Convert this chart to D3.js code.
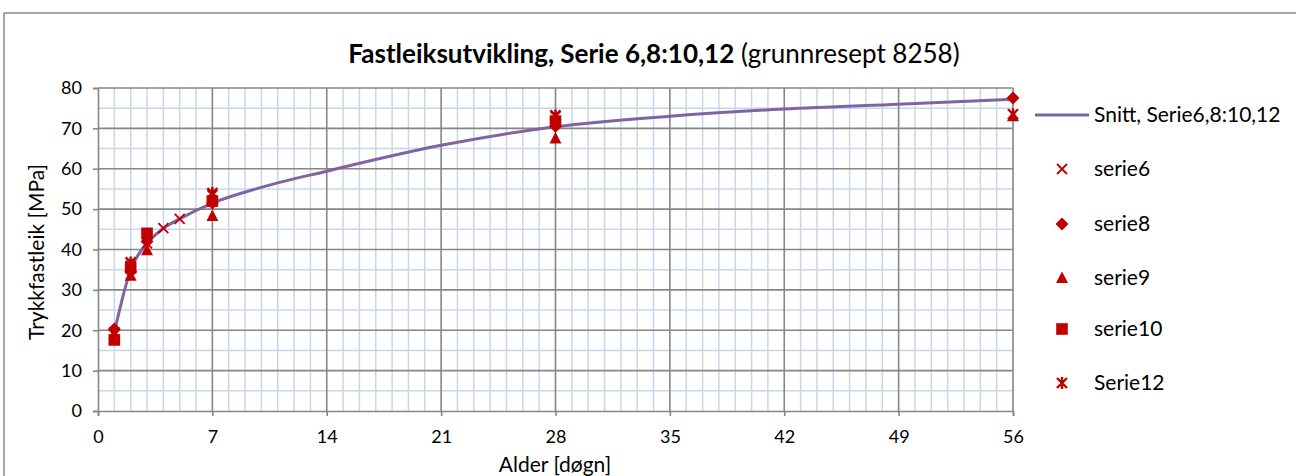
<!DOCTYPE html>
<html>
<head>
<meta charset="utf-8">
<script src="https://cdn.jsdelivr.net/npm/d3@7"></script>
<style>
  body { margin: 0; background: #fff; }
  svg text { font-family: Lato, "Open Sans", sans-serif; fill: #000; }
</style>
</head>
<body>
<script>
/* Data */
const snittDays = [1, 2, 3, 4, 5, 7, 10, 14, 21, 28, 35, 42, 49, 56];
const snittValues = [19.5, 35, 41.5, 45.2, 47.6, 51.5, 55.4, 59.4, 65.8, 70.4, 73, 74.8, 76, 77.2];

const serie6Days = [1, 2, 3, 4, 5, 7, 28];
const serie6Values = [19.5, 36, 41.5, 45.3, 47.6, 53.5, 73];
const serie8Days = [1, 2, 3, 7, 28, 56];
const serie8Values = [20.3, 34.5, 42, 51.5, 70.5, 77.5];
const serie9Days = [1, 2, 3, 7, 28, 56];
const serie9Values = [19, 33.5, 39.8, 48.3, 67.5, 73];
const serie10Days = [1, 2, 3, 7, 28];
const serie10Values = [17.6, 35.5, 44, 52, 71.8];
const serie12Days = [1, 2, 3, 7, 28, 56];
const serie12Values = [19, 36.8, 43, 54, 73.2, 73.5];

const xTicks = [0, 7, 14, 21, 28, 35, 42, 49, 56];
const yTicks = [0, 10, 20, 30, 40, 50, 60, 70, 80];
const legendNames = ["Snitt, Serie6,8:10,12", "serie6", "serie8", "serie9", "serie10", "Serie12"];

/* Constants */
const w = 1296, h = 476;
const plotLeft = 98, plotRight = 1013, plotTop = 88, plotBottom = 411;
const red = "#c00000";
const purple = "#8064a2";

const svg = d3.select("body").append("svg")
  .attr("width", w)
  .attr("height", h);

// chart border
svg.append("rect")
  .attr("x", 4).attr("y", 13)
  .attr("width", 1400).attr("height", 600)
  .attr("fill", "none").attr("stroke", "#8c8c8c").attr("stroke-width", 1.5);

/* Scales */
const xScale = d3.scaleLinear().domain([0, 56]).range([plotLeft, plotRight]);
const yScale = d3.scaleLinear().domain([0, 80]).range([plotBottom, plotTop]);

/* Grid */
const grid = svg.append("g");
grid.selectAll("line.vminor")
  .data(d3.range(1, 57).filter(d => d % 7 != 0))
  .enter().append("line")
  .attr("x1", d => xScale(d)).attr("x2", d => xScale(d))
  .attr("y1", plotTop).attr("y2", plotBottom)
  .attr("stroke", "#c8d6ec").attr("stroke-width", 1.5);
grid.selectAll("line.hminor")
  .data(d3.range(5, 80, 10))
  .enter().append("line")
  .attr("x1", plotLeft).attr("x2", plotRight)
  .attr("y1", d => yScale(d)).attr("y2", d => yScale(d))
  .attr("stroke", "#c8d6ec").attr("stroke-width", 1.5);
grid.selectAll("line.vmajor")
  .data(xTicks.slice(1))
  .enter().append("line")
  .attr("x1", d => xScale(d)).attr("x2", d => xScale(d))
  .attr("y1", plotTop).attr("y2", plotBottom)
  .attr("stroke", "#868686").attr("stroke-width", 1.6);
grid.selectAll("line.hmajor")
  .data(yTicks.slice(1))
  .enter().append("line")
  .attr("x1", plotLeft).attr("x2", plotRight)
  .attr("y1", d => yScale(d)).attr("y2", d => yScale(d))
  .attr("stroke", "#868686").attr("stroke-width", 1.6);

/* Axes */
const xAxis = d3.axisBottom(xScale).tickValues(xTicks).tickSize(5).tickPadding(14);
const yAxis = d3.axisLeft(yScale).tickValues(yTicks).tickSize(5).tickPadding(11);

svg.append("g")
  .attr("transform", "translate(0," + plotBottom + ")")
  .call(xAxis)
  .call(g => g.selectAll("line, path").attr("stroke", "#868686").attr("stroke-width", 1.6))
  .call(g => g.selectAll("text").style("font-size", "18px"));

svg.append("g")
  .attr("transform", "translate(" + plotLeft + ",0)")
  .call(yAxis)
  .call(g => g.selectAll("line, path").attr("stroke", "#868686").attr("stroke-width", 1.6))
  .call(g => g.selectAll("text").style("font-size", "18px"));

/* Titles */
const title = svg.append("text")
  .attr("x", 654).attr("y", 63)
  .attr("text-anchor", "middle")
  .style("font-size", "26px");
title.append("tspan").attr("font-weight", "bold").text("Fastleiksutvikling, Serie 6,8:10,12");
title.append("tspan").text(" (grunnresept 8258)");

svg.append("text")
  .attr("x", 555).attr("y", 472)
  .attr("text-anchor", "middle")
  .style("font-size", "21px")
  .text("Alder [døgn]");

svg.append("text")
  .attr("transform", "translate(44,252) rotate(-90)")
  .attr("text-anchor", "middle")
  .style("font-size", "21px")
  .text("Trykkfastleik [MPa]");

/* Line */
const line = d3.line()
  .x((d, i) => xScale(snittDays[i]))
  .y(d => yScale(d))
  .curve(d3.curveMonotoneX);

svg.append("path")
  .datum(snittValues)
  .attr("d", line)
  .attr("fill", "none")
  .attr("stroke", purple)
  .attr("stroke-width", 3);

/* Markers */
const crossPath = "M-5,-5L5,5M-5,5L5,-5";
const starPath = "M-5,-5L5,5M-5,5L5,-5M0,-6L0,6";

let drawMarker = (g, type) => {
  if (type == "x") {
    g.append("path").attr("d", crossPath).attr("stroke", red).attr("stroke-width", 1.8).attr("fill", "none");
  } else if (type == "star") {
    g.append("path").attr("d", starPath).attr("stroke", red).attr("stroke-width", 2.4).attr("fill", "none");
  } else if (type == "diamond") {
    g.append("path").attr("d", "M0,-6.5L6.5,0L0,6.5L-6.5,0Z").attr("fill", red);
  } else if (type == "triangle") {
    g.append("path").attr("d", "M0,-6.5L6,5L-6,5Z").attr("fill", red);
  } else if (type == "square") {
    g.append("rect").attr("x", -5.8).attr("y", -5.8).attr("width", 11.6).attr("height", 11.6).attr("fill", red);
  }
};

const series = [
  { days: serie6Days, values: serie6Values, type: "x" },
  { days: serie8Days, values: serie8Values, type: "diamond" },
  { days: serie9Days, values: serie9Values, type: "triangle" },
  { days: serie10Days, values: serie10Values, type: "square" },
  { days: serie12Days, values: serie12Values, type: "star" }
];

series.forEach(s => {
  svg.append("g").selectAll("g")
    .data(s.values)
    .enter().append("g")
    .attr("transform", (d, i) => "translate(" + xScale(s.days[i]) + "," + yScale(d) + ")")
    .each(function () { drawMarker(d3.select(this), s.type); });
});

/* Legend */
const legend = svg.append("g");
const legendY = [115, 169, 224, 278, 329, 383];
legend.append("line")
  .attr("x1", 1035).attr("x2", 1089)
  .attr("y1", legendY[0]).attr("y2", legendY[0])
  .attr("stroke", purple).attr("stroke-width", 3);
series.forEach((s, i) => {
  const g = legend.append("g").attr("transform", "translate(1062," + legendY[i + 1] + ")");
  drawMarker(g, s.type);
});
legend.selectAll("text")
  .data(legendNames)
  .enter().append("text")
  .attr("x", 1094)
  .attr("y", (d, i) => legendY[i])
  .attr("dy", "0.35em")
  .style("font-size", "21px")
  .text(d => d);
</script>
</body>
</html>
